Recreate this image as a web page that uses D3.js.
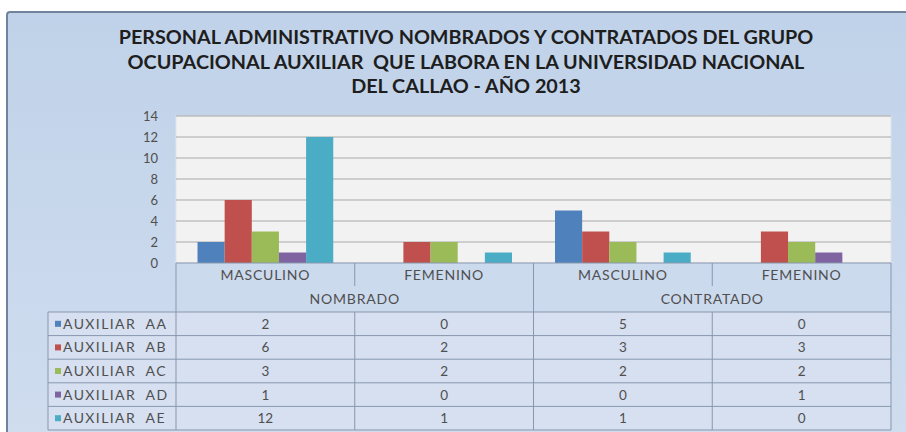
<!DOCTYPE html>
<html>
<head>
<meta charset="utf-8">
<script src="https://cdn.jsdelivr.net/npm/d3@7"></script>
<style>
  html, body { margin: 0; padding: 0; background: #fff; }
  svg { display: block; font-family: Lato, 'Open Sans', sans-serif; }
</style>
</head>
<body>
<div id="chart"></div>
<script>
// Data
const titleLines = [
    'PERSONAL ADMINISTRATIVO NOMBRADOS Y CONTRATADOS DEL GRUPO',
    'OCUPACIONAL AUXILIAR  QUE LABORA EN LA UNIVERSIDAD NACIONAL',
    'DEL CALLAO - AÑO 2013'
];
const categories = ['MASCULINO', 'FEMENINO', 'MASCULINO', 'FEMENINO'];
const groups = ['NOMBRADO', 'CONTRATADO'];
const seriesNames = ['AUXILIAR  AA', 'AUXILIAR  AB', 'AUXILIAR  AC', 'AUXILIAR  AD', 'AUXILIAR  AE'];
const auxAA = [2, 0, 5, 0];
const auxAB = [6, 2, 3, 3];
const auxAC = [3, 2, 2, 2];
const auxAD = [1, 0, 0, 1];
const auxAE = [12, 1, 1, 0];
const yTicks = [0, 2, 4, 6, 8, 10, 12, 14];

const seriesValues = [auxAA, auxAB, auxAC, auxAD, auxAE];
const colors = ['#4f81bd', '#c0504d', '#9bbb59', '#8064a2', '#4bacc6'];

const width = 906;
const height = 432;
const plot = { left: 176, right: 891, top: 116, bottom: 263 };
const rowH = 23.6;
const tableTop = 312;
const legendLeft = 48;
const textColor = '#4f4f4f';
const lineColor = '#8797ad';

const svg = d3.select('#chart')
    .append('svg')
    .attr('width', width)
    .attr('height', height);

const defs = svg.append('defs');
const bg = defs.append('linearGradient')
    .attr('id', 'bg')
    .attr('x1', 0).attr('y1', 0).attr('x2', 0).attr('y2', 1);
bg.append('stop').attr('offset', 0).attr('stop-color', '#c0d2e9');
bg.append('stop').attr('offset', 1).attr('stop-color', '#d0ddef');

// Frame
svg.append('rect')
    .attr('x', 7)
    .attr('y', 12)
    .attr('width', 920)
    .attr('height', 440)
    .attr('rx', 3)
    .attr('fill', 'url(#bg)')
    .attr('stroke', '#71839c')
    .attr('stroke-width', 2);

// Title
svg.append('g')
    .selectAll('text')
    .data(titleLines)
    .enter()
    .append('text')
    .attr('x', 466)
    .attr('y', (d, i) => 44 + i * 24.5)
    .attr('text-anchor', 'middle')
    .attr('fill', '#1e1e1e')
    .style('font-size', '19.8px')
    .style('font-weight', 'bold')
    .style('white-space', 'pre')
    .text(d => d);

// Scales
const x0 = d3.scaleBand()
    .domain(d3.range(categories.length))
    .range([plot.left, plot.right]);

const catW = x0.bandwidth();
const x1 = d3.scaleBand()
    .domain(d3.range(seriesNames.length))
    .range([21.5, catW - 21.5]);

const y = d3.scaleLinear()
    .domain([0, 14])
    .range([plot.bottom, plot.top]);

// Plot area
svg.append('rect')
    .attr('x', plot.left)
    .attr('y', plot.top)
    .attr('width', plot.right - plot.left)
    .attr('height', plot.bottom - plot.top)
    .attr('fill', '#f3f2f2')
    .attr('stroke', '#dfe3ea');

// Grid
svg.append('g')
    .selectAll('line')
    .data(yTicks.filter(d => d > 0))
    .enter()
    .append('line')
    .attr('x1', plot.left)
    .attr('x2', plot.right)
    .attr('y1', d => y(d))
    .attr('y2', d => y(d))
    .attr('stroke', '#a9a9a9')
    .attr('stroke-width', 1);

// Y axis
svg.append('g')
    .attr('transform', `translate(${plot.left},0)`)
    .call(d3.axisLeft(y).tickValues(yTicks).tickSize(0).tickPadding(18))
    .call(g => g.select('.domain').remove())
    .call(g => g.selectAll('text')
        .attr('fill', textColor)
        .style('font-family', 'Lato, sans-serif')
        .style('font-size', '13px'));

// Bars
const barGroups = svg.append('g')
    .selectAll('g')
    .data(categories)
    .enter()
    .append('g')
    .attr('transform', (d, i) => `translate(${x0(i)},0)`);

barGroups.selectAll('rect')
    .data((d, ci) => seriesValues.map((vals, si) => ({ si, v: vals[ci] })))
    .enter()
    .append('rect')
    .attr('x', d => x1(d.si))
    .attr('width', x1.bandwidth())
    .attr('y', d => y(d.v))
    .attr('height', d => y(0) - y(d.v))
    .attr('fill', d => colors[d.si]);

// Table backgrounds
svg.append('rect')
    .attr('x', plot.left)
    .attr('y', plot.bottom)
    .attr('width', plot.right - plot.left)
    .attr('height', tableTop - plot.bottom)
    .attr('fill', '#ccdaee');

svg.append('rect')
    .attr('x', legendLeft)
    .attr('y', tableTop)
    .attr('width', plot.right - legendLeft)
    .attr('height', rowH * seriesNames.length)
    .attr('fill', '#d6e0f0');

// Category labels
svg.append('g')
    .selectAll('text')
    .data(categories)
    .enter()
    .append('text')
    .attr('x', (d, i) => x0(i) + catW / 2)
    .attr('y', 280)
    .attr('text-anchor', 'middle')
    .attr('fill', textColor)
    .style('font-size', '14px')
    .style('letter-spacing', '0.8px')
    .text(d => d);

svg.append('g')
    .selectAll('text')
    .data(groups)
    .enter()
    .append('text')
    .attr('x', (d, i) => x0(i * 2) + catW)
    .attr('y', 304)
    .attr('text-anchor', 'middle')
    .attr('fill', textColor)
    .style('font-size', '14px')
    .style('letter-spacing', '0.8px')
    .text(d => d);

// Table lines
const lines = svg.append('g')
    .attr('stroke', lineColor)
    .attr('stroke-width', 1);

lines.append('line')
    .attr('x1', plot.left).attr('x2', plot.right)
    .attr('y1', plot.bottom).attr('y2', plot.bottom);

lines.selectAll('.hline')
    .data(d3.range(seriesNames.length + 1))
    .enter()
    .append('line')
    .attr('class', 'hline')
    .attr('x1', legendLeft)
    .attr('x2', plot.right)
    .attr('y1', i => tableTop + i * rowH)
    .attr('y2', i => tableTop + i * rowH);

lines.append('line')
    .attr('x1', legendLeft).attr('x2', legendLeft)
    .attr('y1', tableTop).attr('y2', tableTop + rowH * seriesNames.length);

// vertical lines: group separators span both header rows
d3.range(categories.length + 1).forEach(i => {
    const xPos = i === categories.length ? plot.right : x0(i);
    const headerBottom = (i % 2 === 0) ? tableTop : 286;
    lines.append('line')
        .attr('x1', xPos).attr('x2', xPos)
        .attr('y1', plot.bottom).attr('y2', headerBottom);
    lines.append('line')
        .attr('x1', xPos).attr('x2', xPos)
        .attr('y1', tableTop).attr('y2', tableTop + rowH * seriesNames.length);
});

// Legend keys and names
const rows = svg.append('g')
    .selectAll('g')
    .data(seriesNames)
    .enter()
    .append('g')
    .attr('transform', (d, i) => `translate(0,${tableTop + i * rowH})`);

rows.append('rect')
    .attr('x', 55)
    .attr('y', rowH / 2 - 3)
    .attr('width', 6)
    .attr('height', 6)
    .attr('fill', (d, i) => colors[i]);

rows.append('text')
    .attr('x', 63)
    .attr('y', rowH / 2 + 5)
    .attr('fill', textColor)
    .style('font-size', '14px')
    .style('letter-spacing', '1.4px')
    .style('white-space', 'pre')
    .text(d => d);

// Table values
rows.selectAll('.val')
    .data((d, si) => seriesValues[si])
    .enter()
    .append('text')
    .attr('class', 'val')
    .attr('x', (d, ci) => x0(ci) + catW / 2)
    .attr('y', rowH / 2 + 5)
    .attr('text-anchor', 'middle')
    .attr('fill', textColor)
    .style('font-size', '13.5px')
    .text(d => d);
</script>
</body>
</html>
